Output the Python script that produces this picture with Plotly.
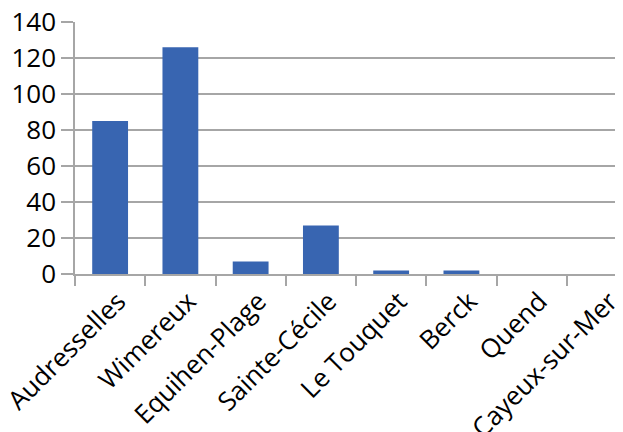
import plotly.graph_objects as go

categories = ["Audresselles", "Wimereux", "Equihen-Plage", "Sainte-Cécile",
              "Le Touquet", "Berck", "Quend", "Cayeux-sur-Mer"]
values = [85, 126, 7, 27, 2, 2, 0, 0]
y_ticks = [0, 20, 40, 60, 80, 100, 120, 140]

grid = "#a6a6a6"
fig = go.Figure(go.Bar(x=categories, y=values, marker_color="#3865b1",
                       marker_line_width=0))
fig.update_layout(
    width=623, height=432,
    margin=dict(l=67, r=8, t=14, b=166, autoexpand=False),
    paper_bgcolor="white", plot_bgcolor="white",
    bargap=0.49,
    showlegend=False,
    font=dict(family="Open Sans", size=26, color="black"),
)
fig.update_xaxes(
    type="category", range=[-0.5, 7.3], automargin=False,
    tickangle=-45, ticks="outside", tickson="boundaries", ticklen=10,
    tickcolor=grid, tickwidth=1.5, ticklabelshift=8,
    ticklabeloverflow="allow",
    showline=True, linecolor=grid, linewidth=1.5,
    showgrid=False,
)
fig.update_yaxes(
    range=[0, 140], tickvals=y_ticks, automargin=False,
    ticks="outside", ticklen=12, tickcolor=grid, tickwidth=1.5,
    ticklabeloverflow="allow",
    showline=True, linecolor=grid, linewidth=1.5,
    showgrid=True, gridcolor=grid, gridwidth=1.5,
    zeroline=False,
)
fig.write_html("out.html")
